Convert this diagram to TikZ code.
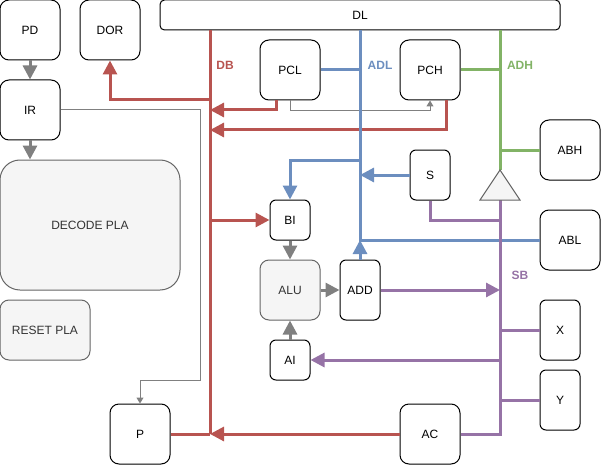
\documentclass[tikz,border=0pt]{standalone}
\usepackage{fontspec}
\setmainfont{Liberation Sans}
\usepackage{tikz}
\usetikzlibrary{arrows.meta}
\usepackage{xcolor}
\definecolor{dbred}{HTML}{B85450}
\definecolor{adlblue}{HTML}{6C8EBF}
\definecolor{adhgreen}{HTML}{82B366}
\definecolor{sbpurple}{HTML}{9673A6}
\definecolor{ctrlgray}{HTML}{808080}
\definecolor{plafill}{HTML}{F5F5F5}
\definecolor{plaline}{HTML}{666666}
\definecolor{platext}{HTML}{333333}
\tikzstyle{reg}=[rectangle, draw=black, line width=1pt, rounded corners=9pt, fill=white,
inner sep=0pt, text centered, font=\fontsize{12}{14}\selectfont, minimum width=60pt, minimum height=60pt]
\tikzstyle{small}=[minimum width=40pt, minimum height=40pt, rounded corners=6pt]
\tikzstyle{tall}=[minimum width=40pt, minimum height=60pt, rounded corners=6pt]
\tikzstyle{pla}=[reg, draw=plaline, fill=plafill, text=platext]
\tikzstyle{buslabel}=[inner sep=0pt, font=\fontsize{12}{14}\selectfont\bfseries]
\tikzstyle{busto}=[-{Triangle[length=14pt,width=14pt]}]
\tikzstyle{smallto}=[-{Triangle[length=6pt,width=7pt]}]
\tikzstyle{dbbus}=[draw=dbred, line width=3pt]
\tikzstyle{adlbus}=[draw=adlblue, line width=3pt]
\tikzstyle{adhbus}=[draw=adhgreen, line width=3pt]
\tikzstyle{sbbus}=[draw=sbpurple, line width=3pt]
\tikzstyle{ctrl}=[draw=ctrlgray, line width=3pt, busto]
\tikzstyle{sig}=[draw=ctrlgray, line width=1pt, smallto]

\begin{document}
\begin{tikzpicture}[x=1pt,y=-1pt]
            \useasboundingbox (0,0) rectangle (601,465);
            \node (PD)[reg] at (30,30) {PD};
            \node (DOR)[reg] at (110,30) {DOR};
            \node (DL)[reg, minimum width=400pt, minimum height=30pt, rounded corners=4.5pt] at (360,15) {DL};
            \node (IR)[reg] at (30,110) {IR};
            \node (DECODE)[pla, minimum width=180pt, minimum height=130pt, rounded corners=20pt] at (90,225) {DECODE PLA};
            \node (RESET)[pla, minimum width=90pt] at (45,330) {RESET PLA};
            \node (P)[reg] at (140,434) {P};
            \node (PCL)[reg] at (290,70) {PCL};
            \node (PCH)[reg] at (430,70) {PCH};
            \node (S)[reg, small, minimum height=50pt] at (430,175) {S};
            \node (BI)[reg, small] at (290,220) {BI};
            \node (ALU)[pla] at (290,290) {ALU};
            \node (ADD)[reg, tall] at (360,290) {ADD};
            \node (AI)[reg, small] at (290,360) {AI};
            \node (ABH)[reg] at (570,150) {ABH};
            \node (ABL)[reg] at (570,240) {ABL};
            \node (X)[reg, tall] at (560,330) {X};
            \node (Y)[reg, tall] at (560,400) {Y};
            \node (AC)[reg] at (430,434) {AC};

            \coordinate (db) at (210,0);
            \coordinate (adl) at (360,0);
            \coordinate (adh) at (500,0);
            \coordinate (buftop) at (500,170);
            \coordinate (bufbot) at (500,200);

            \node (dblabel)[buslabel, text=dbred] at (225,65) {DB};
            \node (adllabel)[buslabel, text=adlblue] at (380,65) {ADL};
            \node (adhlabel)[buslabel, text=adhgreen] at (520,65) {ADH};
            \node (sblabel)[buslabel, text=sbpurple] at (520,275) {SB};

            \draw [sig] (IR.east) -| (200,380) -| (P.north);
            \draw [sig] (PCL.south) -- ++(0,10) -| (PCH.south);

            \draw [dbbus] (DL.south -| db) -- (db |- P.east);
            \draw [dbbus, busto] (db |- 0,100) -| (DOR.south);
            \draw [dbbus, busto] ([xshift=-14pt]PCL.south) |- (db |- 0,110);
            \draw [dbbus, busto] ([xshift=16pt]PCH.south) |- (db |- 0,130);
            \draw [dbbus, busto] (db |- BI.west) -- (BI.west);
            \draw [dbbus, busto] (AC.west) -- (db |- AC.west);
            \draw [dbbus] (P.east) -- (db |- P.east);

            \draw [adlbus] (DL.south -| adl) -- (adl |- ABL.west) -- (ABL.west);
            \draw [adlbus] (PCL.east) -- (adl |- PCL.east);
            \draw [adlbus, busto] (adl |- 0,160) -| (BI.north);
            \draw [adlbus, busto] (S.west) -- (adl |- S.west);
            \draw [adlbus, busto] (ADD.north) -- (adl |- ABL.west);

            \draw [adhbus] (DL.south -| adh) -- (buftop);
            \draw [adhbus] (PCH.east) -- (adh |- PCH.east);
            \draw [adhbus] (adh |- ABH.west) -- (ABH.west);

            \draw [sbbus] (bufbot) -- (adh |- AC.east) -- (AC.east);
            \draw [sbbus] (S.south) |- (adh |- 0,220);
            \draw [sbbus, busto] (ADD.east) -- (adh |- ADD.east);
            \draw [sbbus] (X.west) -- (adh |- X.west);
            \draw [sbbus, busto] (adh |- AI.east) -- (AI.east);
            \draw [sbbus] (Y.west) -- (adh |- Y.west);

            \draw [draw=plaline, fill=plafill, line width=1pt] (buftop) -- (520,200) -- (480,200) -- cycle;

            \draw [ctrl] (PD.south) -- (IR.north);
            \draw [ctrl] (IR.south) -- (IR.south |- DECODE.north);
            \draw [ctrl] (BI.south) -- (ALU.north);
            \draw [ctrl] (AI.north) -- (ALU.south);
            \draw [ctrl] (ALU.east) -- (ADD.west);
        \end{tikzpicture}
\end{document}
